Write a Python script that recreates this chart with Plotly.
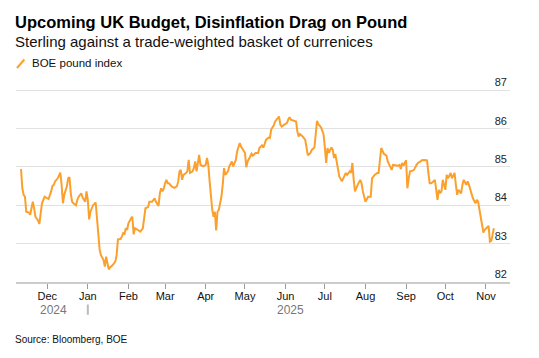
import plotly.graph_objects as go

dates = [
    "2024-11-11", "2024-11-12", "2024-11-13", "2024-11-14", "2024-11-15", "2024-11-17", "2024-11-18",
    "2024-11-20", "2024-11-21", "2024-11-22", "2024-11-24", "2024-11-25", "2024-11-26", "2024-11-27",
    "2024-11-29", "2024-12-01", "2024-12-02", "2024-12-04", "2024-12-05", "2024-12-06", "2024-12-07",
    "2024-12-09", "2024-12-10", "2024-12-11", "2024-12-12", "2024-12-13", "2024-12-14", "2024-12-16",
    "2024-12-17", "2024-12-18", "2024-12-19", "2024-12-20", "2024-12-21", "2024-12-23", "2024-12-24",
    "2024-12-25", "2024-12-27", "2024-12-28", "2024-12-30", "2024-12-31",
    "2025-01-01", "2025-01-02", "2025-01-03", "2025-01-05", "2025-01-07", "2025-01-08", "2025-01-09",
    "2025-01-10", "2025-01-11", "2025-01-13", "2025-01-14", "2025-01-15", "2025-01-16", "2025-01-17",
    "2025-01-18", "2025-01-20", "2025-01-22", "2025-01-23", "2025-01-24", "2025-01-26", "2025-01-27",
    "2025-01-28", "2025-01-29", "2025-01-30", "2025-01-31",
    "2025-02-01", "2025-02-03", "2025-02-04", "2025-02-05", "2025-02-06", "2025-02-08", "2025-02-10",
    "2025-02-12", "2025-02-13", "2025-02-14", "2025-02-16", "2025-02-17", "2025-02-19", "2025-02-21",
    "2025-02-22", "2025-02-24", "2025-02-25", "2025-02-26", "2025-02-27", "2025-02-28",
    "2025-03-01", "2025-03-02", "2025-03-03", "2025-03-04", "2025-03-06", "2025-03-08", "2025-03-10",
    "2025-03-11", "2025-03-12", "2025-03-13", "2025-03-14", "2025-03-15", "2025-03-17", "2025-03-18",
    "2025-03-19", "2025-03-20", "2025-03-22", "2025-03-23", "2025-03-24", "2025-03-25", "2025-03-27",
    "2025-03-28", "2025-03-30",
    "2025-04-01", "2025-04-02", "2025-04-03", "2025-04-04", "2025-04-05", "2025-04-06", "2025-04-07",
    "2025-04-08", "2025-04-09", "2025-04-10", "2025-04-11", "2025-04-13", "2025-04-14", "2025-04-15",
    "2025-04-16", "2025-04-18", "2025-04-19", "2025-04-21", "2025-04-22", "2025-04-24", "2025-04-25",
    "2025-04-27", "2025-04-28", "2025-04-30",
    "2025-05-01", "2025-05-02", "2025-05-03", "2025-05-05", "2025-05-06", "2025-05-07", "2025-05-09",
    "2025-05-11", "2025-05-12", "2025-05-14", "2025-05-15", "2025-05-16", "2025-05-17", "2025-05-19",
    "2025-05-20", "2025-05-21", "2025-05-23", "2025-05-24", "2025-05-26", "2025-05-27", "2025-05-28",
    "2025-05-29", "2025-05-31",
    "2025-06-02", "2025-06-03", "2025-06-04", "2025-06-05", "2025-06-07", "2025-06-09", "2025-06-10",
    "2025-06-11", "2025-06-12", "2025-06-13", "2025-06-14", "2025-06-16", "2025-06-17", "2025-06-18",
    "2025-06-20", "2025-06-21", "2025-06-23", "2025-06-24", "2025-06-25", "2025-06-26", "2025-06-28",
    "2025-06-29", "2025-06-30",
    "2025-07-01", "2025-07-02", "2025-07-03", "2025-07-04", "2025-07-05", "2025-07-06", "2025-07-07",
    "2025-07-08", "2025-07-09", "2025-07-10", "2025-07-11", "2025-07-12", "2025-07-14", "2025-07-16",
    "2025-07-17", "2025-07-18", "2025-07-20", "2025-07-21", "2025-07-22", "2025-07-23", "2025-07-24",
    "2025-07-26", "2025-07-28", "2025-07-29", "2025-07-30",
    "2025-08-01", "2025-08-02", "2025-08-03", "2025-08-05", "2025-08-06", "2025-08-08", "2025-08-10",
    "2025-08-11", "2025-08-12", "2025-08-13", "2025-08-15", "2025-08-16", "2025-08-17", "2025-08-18",
    "2025-08-20", "2025-08-21", "2025-08-22", "2025-08-24", "2025-08-26", "2025-08-27", "2025-08-28",
    "2025-08-29", "2025-08-30",
    "2025-09-01", "2025-09-02", "2025-09-03", "2025-09-04", "2025-09-06", "2025-09-07", "2025-09-09",
    "2025-09-10", "2025-09-12", "2025-09-13", "2025-09-15", "2025-09-17", "2025-09-18", "2025-09-19",
    "2025-09-20", "2025-09-21", "2025-09-23", "2025-09-24", "2025-09-25", "2025-09-26", "2025-09-27",
    "2025-09-28", "2025-09-29",
    "2025-10-01", "2025-10-02", "2025-10-03", "2025-10-05", "2025-10-06", "2025-10-07", "2025-10-08",
    "2025-10-09", "2025-10-10", "2025-10-11", "2025-10-13", "2025-10-14", "2025-10-15", "2025-10-17",
    "2025-10-18", "2025-10-19", "2025-10-21", "2025-10-22", "2025-10-24", "2025-10-25", "2025-10-26",
    "2025-10-27", "2025-10-28", "2025-10-29", "2025-10-30", "2025-10-31",
    "2025-11-02", "2025-11-03", "2025-11-04", "2025-11-05", "2025-11-06", "2025-11-07",
]

boe_pound_index = [
    84.94, 84.44, 84.27, 84.22, 83.83, 83.81, 83.75,
    84.09, 83.92, 83.70, 83.60, 83.51, 83.79, 84.05,
    84.22, 84.18, 84.16, 84.36, 84.50, 84.53, 84.62,
    84.70, 84.77, 84.85, 84.53, 84.05, 84.27, 84.49,
    84.70, 84.73, 84.31, 84.09, 84.05, 84.00, 84.14,
    84.22, 84.31, 84.20, 84.09, 84.36,
    84.14, 83.63, 83.83, 84.00, 84.07, 83.70, 83.25,
    82.85, 82.70, 82.57, 82.40, 82.66, 82.49, 82.33,
    82.38, 82.44, 82.53, 82.70, 83.11, 83.12, 83.18,
    83.27, 83.25, 83.40, 83.36,
    83.53, 83.66, 83.70, 83.24, 83.40, 83.36, 83.31,
    83.40, 83.70, 83.92, 83.95, 84.09, 84.09, 84.18,
    84.09, 83.98, 84.31, 84.44, 84.36, 84.44,
    84.57, 84.66, 84.57, 84.57, 84.49, 84.45, 84.49,
    84.62, 84.88, 84.92, 84.66, 84.79, 84.84, 84.88,
    85.18, 84.84, 84.88, 84.97, 85.14, 84.88, 85.31,
    85.05, 85.01,
    85.05, 85.23, 85.05, 84.62, 84.22, 83.88, 83.70,
    83.83, 83.34, 83.83, 83.88, 84.22, 84.53, 84.97,
    84.79, 84.88, 85.01, 85.14, 85.01, 85.18, 85.40,
    85.62, 85.53, 85.40,
    85.36, 84.99, 85.14, 85.27, 85.34, 85.29, 85.36,
    85.36, 85.49, 85.56, 85.50, 85.59, 85.70, 85.76,
    85.75, 85.97, 86.08, 86.18, 86.27, 86.31, 86.10,
    86.05, 86.10,
    86.14, 86.23, 86.29, 86.23, 86.20, 86.18, 85.92,
    85.79, 85.85, 85.82, 85.79, 85.70, 85.49, 85.30,
    85.36, 85.44, 85.50, 85.84, 86.20, 86.11, 86.03,
    85.94, 85.84,
    85.49, 85.10, 85.49, 85.36, 85.44, 85.50, 85.44,
    85.23, 85.33, 85.10, 84.92, 84.75, 84.62, 84.75,
    84.84, 84.79, 84.88, 84.84, 85.10, 84.66, 84.36,
    84.53, 84.66, 84.57, 84.36,
    84.09, 84.18, 84.22, 84.22, 84.70, 84.79, 84.84,
    84.84, 85.18, 85.49, 85.34, 85.31, 85.29, 85.14,
    84.97, 84.92, 85.05, 85.03, 85.03, 85.05, 84.94,
    85.10, 85.03,
    85.17, 84.44, 84.70, 84.88, 84.90, 84.92, 85.05,
    85.10, 85.14, 85.17, 85.18, 85.17, 84.84, 84.57,
    84.57, 84.59, 84.66, 84.44, 84.14, 84.40, 84.31,
    84.36, 84.66,
    84.40, 84.79, 84.70, 84.84, 84.70, 84.79, 84.84,
    84.53, 84.27, 84.40, 84.31, 84.53, 84.66, 84.53,
    84.62, 84.53, 84.31, 84.18, 84.05, 84.14, 84.09,
    83.88, 83.62, 83.40, 83.29, 83.36,
    83.43, 83.46, 83.05, 83.07, 83.22, 83.40,
]

y_ticks = [82, 83, 84, 85, 86, 87]
year_labels = ["2024", "2025"]
year_label_dates = ["2024-12-06", "2025-06-05"]

title = "Upcoming UK Budget, Disinflation Drag on Pound"
subtitle = "Sterling against a trade-weighted basket of currenices"
series_name = "BOE pound index"
source = "Source: Bloomberg, BOE"

ORANGE = "#FBA02C"
FONT = "Liberation Sans, Arial, sans-serif"

fig = go.Figure()
fig.add_trace(go.Scatter(
    x=dates, y=boe_pound_index, mode="lines", name=series_name,
    line=dict(color=ORANGE, width=2), showlegend=False,
))

# plot area: x 16..510 px, y 82 -> 282 px, 38.4 px per unit
fig.update_layout(
    width=539, height=358,
    margin=dict(l=16, r=29, t=73, b=76, autoexpand=False),
    paper_bgcolor="white", plot_bgcolor="white",
    font=dict(family=FONT, color="#111", size=11),
    xaxis=dict(
        type="date", automargin=False,
        range=["2024-11-07 04:00", "2025-11-19 08:00"],
        tick0="2024-12-01", dtick="M1", tickformat="%b",
        ticks="outside", ticklen=5, tickcolor="#999", tickwidth=1,
        ticklabelstandoff=-2,
        showgrid=False, showline=True, linecolor="#ccc", linewidth=2,
        tickfont=dict(size=11, color="#111"),
        zeroline=False,
    ),
    yaxis=dict(
        side="right", range=[82, 87.443], tickvals=y_ticks, automargin=False,
        ticklabelposition="inside top", ticks="",
        showgrid=True, gridcolor="#e2e2e2", gridwidth=1,
        zeroline=False, showline=False,
        tickfont=dict(size=11, color="#222"),
    ),
)

# paper y -> pixel: y_px = 73 + (1 - y) * 209
def py(px):
    return 1 - (px - 73) / 209.0

annotations = [
    dict(text="<b>" + title + "</b>", x=-0.006, y=py(22), xref="paper", yref="paper",
         xanchor="left", yanchor="middle", showarrow=False,
         font=dict(size=16.5, color="#000", family=FONT)),
    dict(text=subtitle, x=-0.006, y=py(41), xref="paper", yref="paper",
         xanchor="left", yanchor="middle", showarrow=False,
         font=dict(size=15, color="#111", family=FONT)),
    dict(text=series_name, x=0.028, y=py(63), xref="paper", yref="paper",
         xanchor="left", yanchor="middle", showarrow=False,
         font=dict(size=11.5, color="#111", family=FONT)),
    dict(text=source, x=-0.006, y=py(339), xref="paper", yref="paper",
         xanchor="left", yanchor="middle", showarrow=False,
         font=dict(size=10, color="#111", family=FONT)),
]
for lab, d in zip(year_labels, year_label_dates):
    annotations.append(dict(text=lab, x=d, y=py(309.6), xref="x", yref="paper",
                            xanchor="center", yanchor="middle", showarrow=False,
                            font=dict(size=12, color="#777", family=FONT)))
fig.update_layout(annotations=annotations)

fig.add_shape(type="line", xref="paper", yref="paper",
              x0=0.002, y0=py(68), x1=0.017, y1=py(59.5),
              line=dict(color=ORANGE, width=2))
fig.add_shape(type="line", xref="x", yref="paper",
              x0="2025-01-01", x1="2025-01-01", y0=py(304.5), y1=py(314.8),
              line=dict(color="#bbb", width=2))

fig.write_html("out.html", config={"displayModeBar": False},
               post_script="document.body.style.margin='0';document.body.style.padding='0';")
